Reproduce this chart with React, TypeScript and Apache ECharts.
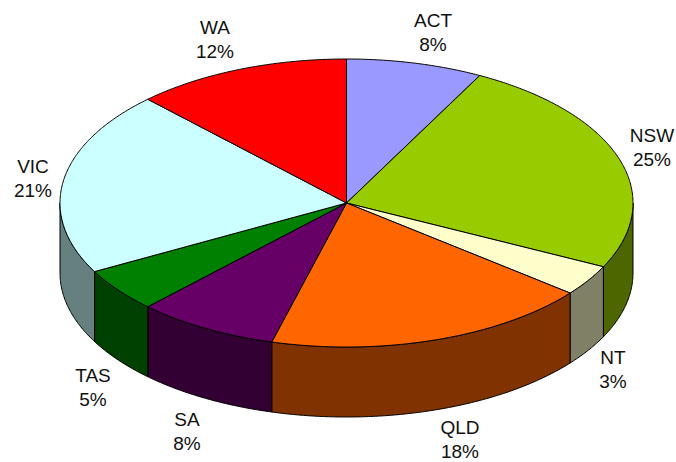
import React, { useEffect, useRef } from "react";
import * as echarts from "echarts";

const categories = ["ACT", "NSW", "NT", "QLD", "SA", "TAS", "VIC", "WA"];
const shares = [7.7, 24.6, 3.45, 18.45, 8.0, 4.9, 20.7, 12.2];
const topColors = ["#9999FF", "#99CC00", "#FFFFCC", "#FF6600", "#660066", "#008000", "#CCFFFF", "#FF0000"];
const wallColors = ["#4D4D80", "#4D6600", "#808066", "#803300", "#330033", "#004000", "#668080", "#800000"];
const labelCentres = [
  [433, 32], [652, 147.5], [613, 369], [460, 439], [187, 431.5], [93, 387.5], [33, 178], [215, 39],
];

const CX = 346.5;
const CY = 203;
const RX = 286.5;
const RY = 144;
const DEPTH = 70;
const LINE_GAP = 12;
const FONT = '19px "Liberation Sans", Arial, sans-serif';

const total = shares.reduce((a, b) => a + b, 0);
const ellipsePoint = (deg: number, dy = 0) => {
  const t = (deg * Math.PI) / 180;
  return [CX + RX * Math.sin(t), CY - RY * Math.cos(t) + dy];
};
const arcPoints = (from: number, to: number, dy = 0) => {
  const n = Math.max(2, Math.ceil(Math.abs(to - from) * 2));
  const pts: number[][] = [];
  for (let i = 0; i <= n; i++) pts.push(ellipsePoint(from + ((to - from) * i) / n, dy));
  return pts;
};
const textLine = (text: string, x: number, y: number) => ({
  type: "text",
  style: {
    text,
    x,
    y,
    align: "center",
    verticalAlign: "middle",
    font: FONT,
    lineHeight: 15,
    fill: "#111",
  },
});

const renderSlice = (params: any, api: any) => {
  const i = params.dataIndex;
  const value = api.value(0);
  let before = 0;
  for (let k = 0; k < i; k++) before += shares[k];
  const start = (before / total) * 360;
  const end = ((before + value) / total) * 360;
  const children: any[] = [];
  const wallFrom = Math.max(start, 90);
  const wallTo = Math.min(end, 270);
  if (wallTo > wallFrom) {
    children.push({
      type: "polygon",
      shape: { points: [...arcPoints(wallFrom, wallTo), ...arcPoints(wallTo, wallFrom, DEPTH)] },
      style: { fill: wallColors[i], stroke: "#000", lineWidth: 1, lineJoin: "round" },
    });
  }
  children.push({
    type: "polygon",
    shape: { points: [[CX, CY], ...arcPoints(start, end)] },
    style: { fill: topColors[i], stroke: "#000", lineWidth: 1, lineJoin: "round" },
  });
  const [lx, ly] = labelCentres[i];
  children.push(textLine(categories[i], lx, ly - LINE_GAP));
  children.push(textLine(`${Math.round((value / total) * 100)}%`, lx, ly + LINE_GAP));
  return { type: "group", children };
};

export default function App() {
  const ref = useRef<HTMLDivElement>(null);
  useEffect(() => {
    const chart = echarts.init(ref.current!, undefined, { renderer: "svg" });
    chart.setOption({
      animation: false,
      backgroundColor: "#fff",
      series: [
        {
          type: "custom",
          coordinateSystem: "none",
          silent: true,
          data: shares.map((v, i) => ({ name: categories[i], value: [v] })),
          renderItem: renderSlice,
        },
      ],
    });
    return () => chart.dispose();
  }, []);
  return <div ref={ref} style={{ position: "fixed", left: 0, top: 0, width: 676, height: 462 }} />;
}
